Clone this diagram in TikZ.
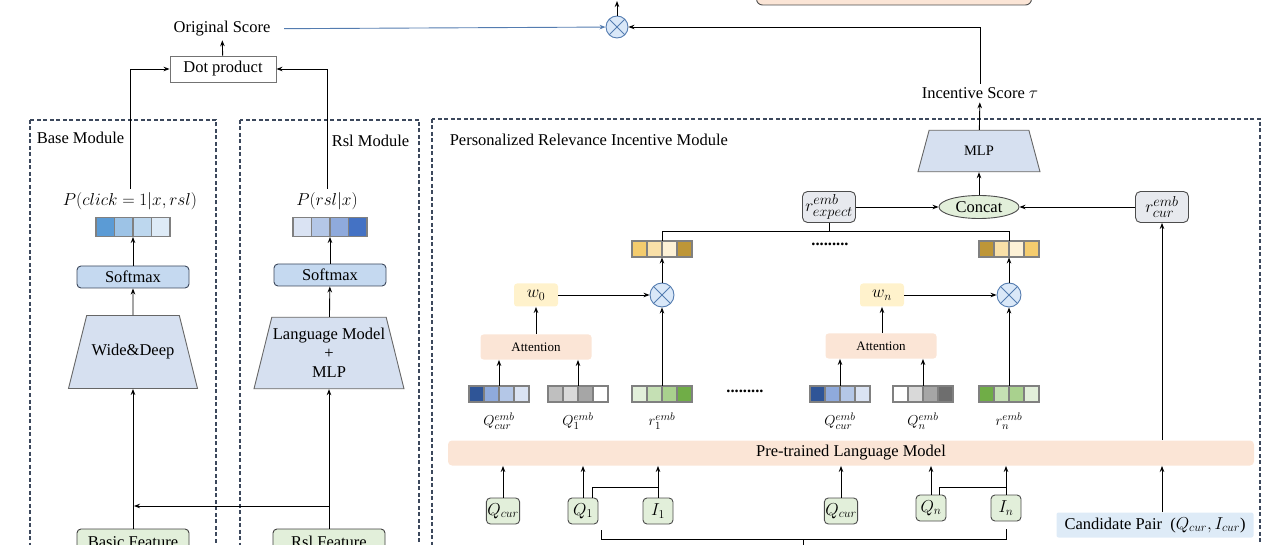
\documentclass[tikz,border=0pt]{standalone}
\usepackage{fontspec}
\setmainfont{Liberation Serif}
\usepackage{amsmath}
\usetikzlibrary{arrows.meta,positioning,calc,shapes.geometric}

\definecolor{modframe}{RGB}{60,72,92}
\definecolor{lineblue}{RGB}{84,124,176}
\definecolor{softblue}{RGB}{197,217,240}
\definecolor{trapblue}{RGB}{214,224,240}
\definecolor{featgreen}{RGB}{226,239,218}
\definecolor{peach}{RGB}{251,229,214}
\definecolor{wyellow}{RGB}{255,242,204}
\definecolor{embgray}{RGB}{231,233,238}
\definecolor{candblue}{RGB}{222,235,247}
\definecolor{timesblue}{RGB}{218,232,248}
\definecolor{b1}{RGB}{91,155,213}
\definecolor{b2}{RGB}{157,195,230}
\definecolor{b3}{RGB}{189,215,238}
\definecolor{b4}{RGB}{222,235,247}
\definecolor{navy}{RGB}{47,85,151}
\definecolor{p1}{RGB}{143,170,220}
\definecolor{p2}{RGB}{180,199,231}
\definecolor{p3}{RGB}{218,227,243}
\definecolor{dblue}{RGB}{68,114,196}
\definecolor{g1}{RGB}{191,191,191}
\definecolor{g2}{RGB}{217,217,217}
\definecolor{g3}{RGB}{166,166,166}
\definecolor{g4}{RGB}{110,110,110}
\definecolor{gr1}{RGB}{226,239,218}
\definecolor{gr2}{RGB}{197,224,180}
\definecolor{gr3}{RGB}{169,209,142}
\definecolor{gr4}{RGB}{112,173,71}
\definecolor{y1}{RGB}{244,204,110}
\definecolor{y2}{RGB}{249,224,168}
\definecolor{y3}{RGB}{253,241,214}
\definecolor{y4}{RGB}{190,150,55}

\newcommand{\embbar}[6]{%
  \foreach \clr [count=\i from 0] in {#6}
    \draw[barline, fill=\clr] (#2-2*#4+#4*\i, #3-#5/2) rectangle ++(#4,#5);
  \node[inner sep=0pt, minimum width=4*#4pt, minimum height=#5pt] (#1) at (#2,#3) {};
}

\begin{document}
\begin{tikzpicture}[x=1pt,y=-1pt,>={Stealth[length=6pt,width=4.5pt]},line width=0.9pt,
  font=\fontsize{16.5}{19}\selectfont,
  module/.style={draw=modframe,line width=1.1pt,dash pattern=on 4pt off 2.5pt},
  barline/.style={draw=black!50,line width=1.3pt},
  softbox/.style={draw=modframe,fill=softblue,rounded corners=4pt,minimum width=112pt,minimum height=22pt,inner sep=0pt},
  trap/.style={trapezium,draw=black!60,fill=trapblue,trapezium stretches body=true,align=center,inner xsep=0pt},
  feat/.style={draw=black!75,fill=featgreen,rounded corners=4pt,minimum width=112pt,minimum height=26pt,inner sep=0pt},
  inbox/.style={draw=black!70,fill=featgreen,rounded corners=4pt,minimum width=30pt,minimum height=26pt,inner sep=1pt},
  embbox/.style={draw=black!70,fill=embgray,rounded corners=5pt,minimum width=53pt,minimum height=31pt,inner sep=1pt,font=\fontsize{19}{21}\selectfont},
  attnbox/.style={fill=peach,rounded corners=3pt,minimum width=111pt,minimum height=25pt,font=\fontsize{13}{15}\selectfont},
  wbox/.style={fill=wyellow,rounded corners=3pt,minimum width=44pt,minimum height=23pt,inner sep=0pt},
  otimes/.style={circle,draw=lineblue,fill=timesblue,minimum size=24pt,inner sep=0pt,
    path picture={\draw[lineblue] (path picture bounding box.north west) -- (path picture bounding box.south east)
      (path picture bounding box.north east) -- (path picture bounding box.south west);}},
  lbl/.style={font=\fontsize{15}{17}\selectfont}]
\clip (0,0) rectangle (1280,545);

\node (orig) at (222,29) {Original Score};
\node[draw=black!55,minimum width=106pt,minimum height=26pt,inner sep=0pt] (dot) at (223,69) {Dot product};
\node[otimes,minimum size=22pt] (mulT) at (617,27) {};
\coordinate (mulout) at (617,1);
\node[draw=black!70,fill=peach,rounded corners=6pt,minimum width=275pt,minimum height=40pt] (fused) at (894,-15) {};
\draw[->] (dot) -- (orig);
\draw[->,lineblue,shorten <=10pt] (orig) -- (mulT);
\draw[->] (mulT) -- (mulout);

\draw[module] (30,120) rectangle (216,560);
\draw[module] (240,120) rectangle (419,560);
\draw[module] (432,119) rectangle (1260,560);
\node[anchor=west] (basetitle) at (33,138) {Base Module};
\node[anchor=east] (rsltitle) at (413,141) {Rsl Module};
\node[anchor=west] (prititle) at (446,140) {Personalized Relevance Incentive Module};

\node (pclick) at (130,201) {$P(click=1|x,rsl)$};
\embbar{barB}{133}{227}{18.5}{19}{b1,b2,b3,b4}
\node[softbox] (smB) at (133,277) {Softmax};
\node[trap,trapezium angle=76,minimum width=129pt,inner ysep=29pt] (wd) at (133,352) {Wide\&Deep};
\node[feat] (basic) at (133,542) {Basic Feature};
\draw[->] (pclick.north) |- (dot.west);
\draw[->] (smB) -- (barB);
\draw[->] (wd) -- (smB);
\draw[->] (basic) -- (wd);

\node (prsl) at (327,201) {$P(rsl|x)$};
\embbar{barR}{330}{227}{18.5}{19}{p3,p2,p1,dblue}
\node[softbox] (smR) at (330,275) {Softmax};
\node[trap,trapezium angle=76,minimum width=150pt,inner ysep=11pt] (lm) at (329,353) {Language Model\\+\\MLP};
\node[feat] (rslf) at (329,542) {Rsl Feature};
\draw[->] (prsl.north) |- (dot.east);
\draw[->] (smR) -- (barR);
\draw[->] (lm) -- (smR);
\draw[->] (rslf) -- (lm);
\coordinate (rslsplit) at (329,506);
\coordinate (basejoin) at (134,506);
\draw[->] (rslsplit) -- (basejoin);

\node (tau) at (980,93) {Incentive Score $\tau$};
\draw[->] (tau) |- (mulT);
\node[trap,trapezium angle=75,minimum width=122pt,inner ysep=16pt,font=\fontsize{14.5}{17}\selectfont] (mlp) at (979,151) {MLP};
\node[ellipse,draw=black!70,fill=featgreen,minimum width=80pt,minimum height=23pt,inner sep=0pt] (concat) at (979,207) {Concat};
\node[embbox] (rexp) at (829,207) {$r^{emb}_{expect}$};
\node[embbox] (rcur) at (1162,207) {$r^{emb}_{cur}$};
\draw[->] (mlp) -- (tau);
\draw[->] (concat) -- (mlp);
\draw[->] (rexp) -- (concat);
\draw[->] (rcur) -- (concat);

\embbar{agg0}{662}{249}{15}{16}{y1,y2,y3,y4}
\embbar{aggn}{1009}{249}{15}{16}{y4,y2,y3,y1}
\coordinate (aggline) at (829,232);
\draw (agg0.north) -- ++(0,-9) -| (aggn.north);
\draw (rexp) -- (aggline);
\node (dotsA) at (830,244) {\textbf{.........}};

\node[otimes] (mul0) at (662,295) {};
\node[otimes] (muln) at (1009,295) {};
\node[wbox] (w0) at (536,295) {$w_0$};
\node[wbox] (wn) at (882,295) {$w_n$};
\node[attnbox] (att0) at (536,347) {Attention};
\node[attnbox] (attN) at (881,346) {Attention};
\draw[->] (mul0) -- (agg0);
\draw[->] (muln) -- (aggn);
\draw[->] (w0) -- (mul0);
\draw[->] (wn) -- (muln);
\draw[->] (att0) -- (w0);
\draw[->] (attN.north -| wn) -- (wn);

\embbar{qc0}{499}{394}{15}{16}{navy,p1,p2,p3}
\embbar{q1}{578}{394}{15}{16}{g1,g2,g3,white}
\embbar{r1}{662}{394}{15}{16}{gr1,gr2,gr3,gr4}
\node (dotsB) at (745,391) {\textbf{.........}};
\embbar{qc1}{840}{394}{15}{16}{navy,p1,p2,p3}
\embbar{qn}{923}{394}{15}{16}{white,g2,g3,g4}
\embbar{rn}{1009}{394}{15}{16}{gr4,gr2,gr3,gr1}
\draw[->] (qc0) -- (qc0 |- att0.south);
\draw[->] (q1) -- (q1 |- att0.south);
\draw[->] (r1) -- (mul0);
\draw[->] (qc1) -- (qc1 |- attN.south);
\draw[->] (qn) -- (qn |- attN.south);
\draw[->] (rn) -- (muln);

\node[lbl] (lqc0) at (499,421) {$Q^{emb}_{cur}$};
\node[lbl] (lq1) at (578,421) {$Q^{emb}_{1}$};
\node[lbl] (lr1) at (662,421) {$r^{emb}_{1}$};
\node[lbl] (lqc1) at (840,421) {$Q^{emb}_{cur}$};
\node[lbl] (lqn) at (923,421) {$Q^{emb}_{n}$};
\node[lbl] (lrn) at (1009,421) {$r^{emb}_{n}$};

\node[fill=peach,rounded corners=4pt,minimum width=806pt,minimum height=25pt,inner sep=0pt] (plm) at (851,453) {Pre-trained Language Model};

\node[inbox] (iqc0) at (503,511) {$Q_{cur}$};
\node[inbox] (iq1) at (583,511) {$Q_1$};
\node[inbox] (ii1) at (658,511) {$I_1$};
\node[inbox] (iqc1) at (841,511) {$Q_{cur}$};
\node[inbox] (iqn) at (931,508) {$Q_n$};
\node[inbox] (iin) at (1006,508) {$I_n$};
\node[fill=candblue,rounded corners=2pt,minimum width=197pt,minimum height=25pt,inner sep=0pt] (cand) at (1155,525) {Candidate Pair \ ($Q_{cur},I_{cur}$)};
\draw[->] (iqc0) -- (iqc0 |- plm.south);
\draw[->] (iq1) -- (iq1 |- plm.south);
\draw[->] (ii1) -- (ii1 |- plm.south);
\draw[->] (iqc1) -- (iqc1 |- plm.south);
\draw[->] (iqn) -- (iqn |- plm.south);
\draw[->] (iin) -- (iin |- plm.south);
\coordinate (j1) at (658,487);
\coordinate (jn) at (1006,487);
\draw ([xshift=9pt]iq1.north) |- (j1);
\draw ([xshift=8pt]iqn.north) |- (jn);
\draw[->] (cand.north -| rcur) -- (rcur |- plm.south);
\draw[->] (rcur |- plm.north) -- (rcur);

\coordinate (brl) at (601,530);
\coordinate (brr) at (1006,529);
\coordinate (brm) at (803,539);
\draw (brl) -- ++(0,9) -| (brr);
\draw (brm) -- ++(0,10);
\end{tikzpicture}
\end{document}
